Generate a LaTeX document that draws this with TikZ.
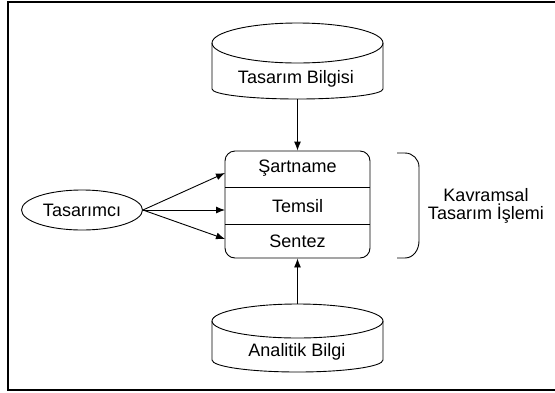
\documentclass[tikz,border=0pt]{standalone}
\usepackage{fontspec}
\setmainfont{Liberation Sans}
\usetikzlibrary{arrows.meta,shapes.geometric}
\begin{document}
\begin{tikzpicture}[x=1pt,y=-1pt,
  line/.style={draw=black,line width=0.9pt},
  lbl/.style={inner sep=0pt,font=\fontsize{18}{21}\selectfont},
  arr/.style={line,-{Latex[length=9pt,width=7pt]}}]
\useasboundingbox (0,0) rectangle (555,392);
\fill[white] (0,0) rectangle (555,392);
% frame (right side runs off the page)
\draw[line width=2pt] (560,2) -- (8,2) -- (8,390) -- (560,390);

% upper store: Tasarim Bilgisi
\draw[line] (297.5,43) ellipse [x radius=85.5,y radius=20];
\draw[line] (212,43) -- (212,89) arc [start angle=180,end angle=0,x radius=85.5,y radius=10] -- (383,43);
\node[lbl] (bilgi) at (296,79) {Tasarım Bilgisi};
\coordinate (bilgiBot) at (297.5,99);

% lower store: Analitik Bilgi
\draw[line] (297.5,321) ellipse [x radius=85.5,y radius=17];
\draw[line] (212,321) -- (212,360) arc [start angle=180,end angle=0,x radius=85.5,y radius=12] -- (383,321);
\node[lbl] (analitik) at (297,352) {Analitik Bilgi};
\coordinate (analitikTop) at (297.5,304);

% process box with three fields
\node[line,rounded corners=10pt,minimum width=145pt,minimum height=107pt,inner sep=0pt] (box) at (297.5,204.5) {};
\draw[line] (225,187) -- (370,187);
\draw[line] (225,224) -- (370,224);
\node[lbl] (sart) at (297.5,168) {Şartname};
\node[lbl] (temsil) at (297.5,206) {Temsil};
\node[lbl] (sentez) at (297.5,241) {Sentez};
\coordinate (inSart) at (225,173);
\coordinate (inTemsil) at (225,210);
\coordinate (inSentez) at (225,239);

% actor
\node[line,ellipse,minimum width=121pt,minimum height=40pt,inner sep=0pt] (actor) at (82,210) {};
\node[lbl] at (actor) {Tasarımcı};

% connectors
\draw[arr] (bilgiBot) -- (box.north);
\draw[arr] (analitikTop) -- (box.south);
\draw[arr] (actor.east) -- (inSart);
\draw[arr] (actor.east) -- (inTemsil);
\draw[arr] (actor.east) -- (inSentez);

% bracket and label
\draw[line] (397,153) -- (405,153) to[out=0,in=90] (419,167) -- (419,241) to[out=-90,in=0] (405,258) -- (397,258);
\node[lbl,align=center] (kavram) at (486,206) {Kavramsal\\[-3pt]Tasarım İşlemi};
\end{tikzpicture}
\end{document}
